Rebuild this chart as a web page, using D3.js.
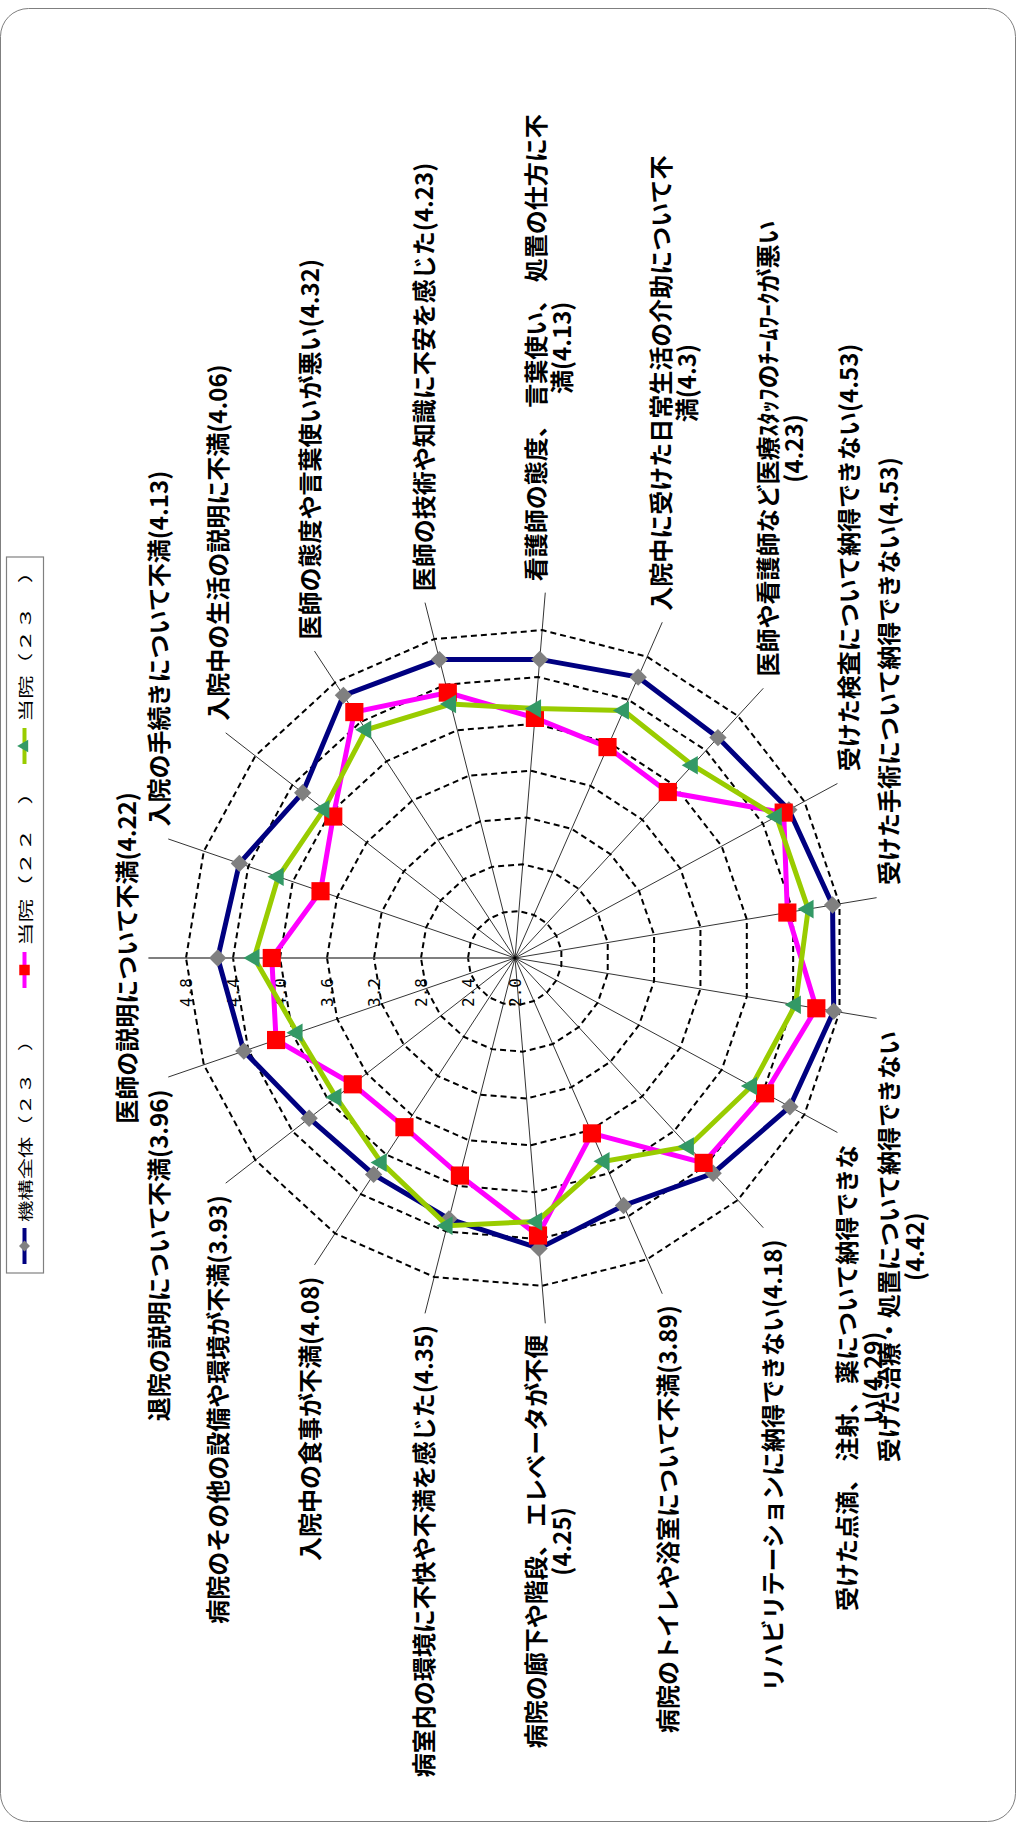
<!DOCTYPE html>
<html><head><meta charset="utf-8">
<script src="https://cdn.jsdelivr.net/npm/d3@7"></script>
<style>body{margin:0;background:#fff}</style>
</head><body>
<svg id="chart" width="1018" height="1825"></svg>
<script>
// Category names; "|" marks where the label wraps onto a second line.
const categories = [
  "医師の説明について不満",
  "入院の手続きについて不満",
  "入院中の生活の説明に不満",
  "医師の態度や言葉使いが悪い",
  "医師の技術や知識に不安を感じた",
  "看護師の態度、 言葉使い、 処置の仕方に不|満",
  "入院中に受けた日常生活の介助について不|満",
  "医師や看護師など医療ｽﾀｯﾌのﾁｰﾑﾜｰｸが悪い|",
  "受けた検査について納得できない",
  "受けた手術について納得できない",
  "受けた治療・処置について納得できない|",
  "受けた点滴、 注射、 薬について納得できな|い",
  "リハビリテーションに納得できない",
  "病院のトイレや浴室について不満",
  "病院の廊下や階段、 エレベータが不便|",
  "病室内の環境に不快や不満を感じた",
  "入院中の食事が不満",
  "病院のその他の設備や環境が不満",
  "退院の説明について不満"
];

const seriesNames = ["機構全体（２３　）", "当院（２２　）", "当院（２３　）"];
const kikouZentai23 = [4.53, 4.48, 4.29, 4.67, 4.62, 4.55, 4.61, 4.55, 4.65, 4.74,
                       4.75, 4.66, 4.49, 4.30, 4.48, 4.29, 4.20, 4.22, 4.44];
const touin22 = [4.07, 3.75, 3.96, 4.50, 4.33, 4.05, 3.96, 3.92, 4.60, 4.35,
                 4.60, 4.42, 4.37, 3.63, 4.37, 3.91, 3.72, 3.75, 4.15];
const touin23 = [4.22, 4.13, 4.06, 4.32, 4.23, 4.13, 4.3, 4.23, 4.53, 4.53,
                 4.42, 4.29, 4.18, 3.89, 4.25, 4.35, 4.08, 3.93, 3.96];
const tickValues = [2.0, 2.4, 2.8, 3.2, 3.6, 4.0, 4.4, 4.8];
const tickLabels = ["2.0", "2.4", "2.8", "3.2", "3.6", "4.0", "4.4", "4.8"];
const spokeMax = 5.12;

const svg = d3.select("#chart");
const W = 1018, H = 1825;

// outer frame
svg.append("rect").attr("x", 0.5).attr("y", 8.5).attr("width", W - 3).attr("height", H - 12)
  .attr("rx", 28).attr("fill", "#fff").attr("stroke", "#7f7f7f").attr("stroke-width", 1);

const cx = 515, cy = 958;
const r = d3.scaleLinear().domain([2.0, 4.8]).range([0, 329]);
const n = categories.length;
const angle = d3.scaleLinear().domain([0, n]).range([0, 2 * Math.PI]);
const pt = (i, v) => [r(v) * Math.sin(angle(i)), -r(v) * Math.cos(angle(i))];

// the whole radar is laid out upright, then turned a quarter turn counter-clockwise
const g = svg.append("g").attr("transform", `translate(${cx},${cy}) rotate(-90)`);

// dashed grid rings
tickValues.slice(1).forEach(t => {
  g.append("path")
    .attr("d", d3.line()(d3.range(n).map(i => pt(i, t))) + "Z")
    .attr("fill", "none").attr("stroke", "#000").attr("stroke-width", 2)
    .attr("stroke-dasharray", "6,4");
});

// spokes
d3.range(n).forEach(i => {
  const [x, y] = pt(i, spokeMax);
  g.append("line").attr("x1", 0).attr("y1", 0).attr("x2", x).attr("y2", y)
    .attr("stroke", i === 0 ? "#555" : "#000")
    .attr("stroke-width", i === 0 ? 1.6 : 0.8);
});

// value-axis tick labels
tickValues.forEach((t, k) => {
  g.append("text").attr("x", -20).attr("y", -r(t))
    .attr("text-anchor", "end").attr("dominant-baseline", "central")
    .attr("font-family", "'DejaVu Sans Mono', monospace").attr("font-size", 16)
    .attr("fill", "#000").text(tickLabels[k]);
});

// series
const series = [
  { values: kikouZentai23, line: "#000080", marker: "#808080", shape: "diamond" },
  { values: touin22, line: "#ff00ff", marker: "#ff0000", shape: "square" },
  { values: touin23, line: "#99cc00", marker: "#339966", shape: "triangle" }
];
const markerPath = shape => {
  if (shape === "diamond") return d3.symbol(d3.symbolSquare, 150)();
  if (shape === "square") return d3.symbol(d3.symbolSquare, 330)();
  return d3.symbol(d3.symbolTriangle, 150)();
};
series.forEach(s => {
  g.append("path")
    .attr("d", d3.line()(s.values.map((v, i) => pt(i, v))) + "Z")
    .attr("fill", "none").attr("stroke", s.line).attr("stroke-width", 5)
    .attr("stroke-linejoin", "miter");
  s.values.forEach((v, i) => {
    const [x, y] = pt(i, v);
    g.append("path").attr("d", markerPath(s.shape))
      .attr("transform", `translate(${x},${y})` + (s.shape === "diamond" ? " rotate(45)" : ""))
      .attr("fill", s.marker);
  });
});

// category labels: side labels start/end just past the spoke tip, lines centred in their block
const labelR = 365, lineH = 26, fontSize = 24, gap = 13;
categories.forEach((name, i) => {
  const a = angle(i);
  const s = Math.sin(a), c = Math.cos(a);
  const lines = (name + "(" + touin23[i] + ")").split("|");
  const ax = labelR * s, ay = -labelR * c;
  const h = lines.length * lineH;
  const side = Math.abs(s) > 0.02;
  const blockCy = side ? ay - (h / 2) * c : ay - Math.sign(c) * (h / 2 + 12);
  const lg = g.append("g");
  const texts = lines.map((t, k) => lg.append("text")
    .attr("y", blockCy - h / 2 + lineH * (k + 0.5))
    .attr("dominant-baseline", "central").attr("text-anchor", "middle")
    .attr("font-family", "'Noto Sans CJK JP', sans-serif").attr("font-weight", "bold")
    .attr("font-size", fontSize).attr("fill", "#000").text(t));
  const wMax = d3.max(texts, t => t.node().getComputedTextLength());
  let xc;
  if (s > 0.02) xc = ax + gap + wMax / 2;
  else if (s < -0.02) xc = ax - gap - wMax / 2;
  else xc = ax;
  texts.forEach(t => t.attr("x", xc));
});

// legend (runs bottom-to-top along the left edge)
const lg = svg.append("g").attr("transform", "translate(24.5,1273) rotate(-90)");
lg.append("rect").attr("x", 0).attr("y", -18).attr("width", 716).attr("height", 37)
  .attr("fill", "#fff").attr("stroke", "#808080").attr("stroke-width", 1.2);
const legendPos = [27, 303, 527];
const legendLen = [192, 165, 162];
series.forEach((s, k) => {
  const x0 = legendPos[k];
  lg.append("line").attr("x1", x0 - 18).attr("x2", x0 + 18).attr("y1", 0).attr("y2", 0)
    .attr("stroke", s.line).attr("stroke-width", 4);
  const sz = { diamond: 60, square: 110, triangle: 70 }[s.shape];
  const sym = s.shape === "triangle" ? d3.symbolTriangle : d3.symbolSquare;
  lg.append("path").attr("d", d3.symbol(sym, sz)())
    .attr("transform", `translate(${x0},0)` + (s.shape === "diamond" ? " rotate(45)" : ""))
    .attr("fill", s.marker);
  lg.append("text").attr("x", x0 + 24).attr("y", 0).attr("dominant-baseline", "central")
    .attr("font-family", "'Noto Sans CJK JP', sans-serif").attr("font-size", 15)
    .attr("textLength", legendLen[k]).attr("lengthAdjust", "spacingAndGlyphs")
    .attr("fill", "#000").text(seriesNames[k]);
});
</script>
</body></html>
